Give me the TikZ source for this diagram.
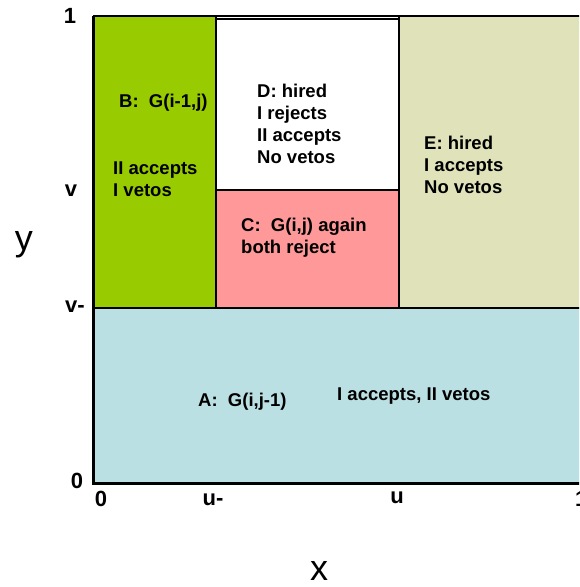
\documentclass[tikz,border=0pt]{standalone}
\usepackage{fontspec}
\setmainfont{Liberation Sans}
\usepackage{tikz}
\usetikzlibrary{positioning}
\definecolor{cgreenB}{RGB}{153,204,0}
\definecolor{cpinkC}{RGB}{255,153,153}
\definecolor{coliveE}{RGB}{224,227,186}
\definecolor{ccyanA}{RGB}{187,224,227}

\begin{document}
\begin{tikzpicture}[
  x=1pt, y=-1pt,
  region/.style = {draw=black, line width=1.2pt},
  lbl/.style    = {anchor=west, inner sep=0pt, align=left,
                   font=\bfseries\fontsize{18.5}{22}\selectfont},
  tick/.style   = {inner sep=0pt, font=\bfseries\fontsize{22}{24}\selectfont},
  axlbl/.style  = {inner sep=0pt, font=\fontsize{36}{38}\selectfont},
]
\useasboundingbox (0,0) rectangle (579,587);
\begin{scope}
\clip (0,0) rectangle (579,587);
% Regions
\fill[ccyanA]  (93,308) rectangle (600,483);
\fill[cgreenB] (93,16)  rectangle (216,308);
\fill[cpinkC]  (216,190) rectangle (399,308);
\fill[coliveE] (399,16) rectangle (600,308);
\draw[region] (93,308) -- (600,308);
\draw[region] (216,16) -- (216,308);
\draw[region] (399,16) -- (399,308);
\draw[region, fill=white] (216,19) rectangle (399,190);
% Frame
\draw[line width=2.2pt] (93,16) -- (600,16);
\draw[line width=3pt] (600,483) -- (93,483) -- (93,16);
% Tick 1 on x axis, cut at the edge
\node[tick, anchor=west] (x1) at (575,499) {1};
\end{scope}
% Region texts
\node[lbl] (bname) at (119,103) {B:\ \ G(i-1,j)};
\node[lbl] (btxt)  at (113,179) {II accepts\\I vetos};
\node[lbl] (dtxt)  at (257,124) {D: hired\\I rejects\\II accepts\\No vetos};
\node[lbl] (ctxt)  at (241,237.5) {C:\ \ G(i,j) again\\both reject};
\node[lbl] (etxt)  at (424,165) {E: hired\\I accepts\\No vetos};
\node[lbl] (aname) at (198,402) {A:\ \ G(i,j-1)};
\node[lbl] (atxt)  at (337,396) {I accepts, II vetos};
% Ticks
\node[tick] (y1)  at (70,16)  {1};
\node[tick] (yv)  at (71,191) {v};
\node[tick] (yvm) at (75,307) {v-};
\node[tick] (y0)  at (77,481) {0};
\node[tick] (x0)  at (101,499) {0};
\node[tick] (xum) at (213,500) {u-};
\node[tick] (xu)  at (397,498) {u};
% Axis names
\node[axlbl] (ylab) at (24,245) {y};
\node[axlbl] (xlab) at (319,571) {x};
\end{tikzpicture}
\end{document}
